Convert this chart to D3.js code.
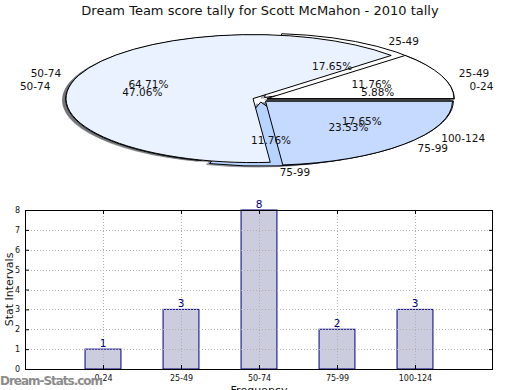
<!DOCTYPE html>
<html>
<head>
<meta charset="utf-8">
<script src="https://cdn.jsdelivr.net/npm/d3@7"></script>
<style>
  html, body { margin: 0; padding: 0; background: #ffffff; }
  svg { display: block; font-family: "DejaVu Sans", sans-serif; }
</style>
</head>
<body>
<svg id="chart" width="520" height="390"></svg>
<script>
// ---- data ----
const title = "Dream Team score tally for Scott McMahon - 2010 tally";
const categories = ["0-24", "25-49", "50-74", "75-99", "100-124"];
const counts = [1, 3, 8, 2, 3];
// second (overlaid) pie as rendered in the reference
const pie2Categories = ["25-49", "50-74", "75-99"];
const pie2Counts = [2, 11, 4];
const pie1Colors = ["#ffffff", "#ffffff", "#eaf1ff", "#b6d4ff", "#c6d9ff"];
const pie2Colors = ["#ffffff", "#eaf1ff", "#c6d9ff"];
const yTicks = [0, 1, 2, 3, 4, 5, 6, 7, 8];
const xLabel = "Frequency";
const yLabel = "Stat Intervals";
const watermark = "Dream-Stats.com";

const svg = d3.select("#chart");

svg.append("text")
  .attr("x", 260).attr("y", 15)
  .attr("text-anchor", "middle")
  .attr("font-size", 13).attr("fill", "#111")
  .text(title);

// ---- pies ----
const cx = 260, cy = 99.5, rx = 187, ry = 64, R = 100;
const explode = 0.04, labelDist = 1.1, pctDist = 0.6;

const pieGen = d3.pie().sort(null).value(d => d.v)
  .startAngle(Math.PI / 2).endAngle(Math.PI / 2 - 2 * Math.PI);
const arcGen = d3.arc().innerRadius(0).outerRadius(R);

function build(cats, vals, cols) {
  const total = d3.sum(vals);
  return pieGen(cats.map((c, i) => ({ c, v: vals[i], col: cols[i], total })))
    .map(a => {
      const mid = (a.startAngle + a.endAngle) / 2;
      const th = Math.PI / 2 - mid;
      return Object.assign(a, { th });
    });
}
const p1 = build(categories, counts, pie1Colors);
const p2 = build(pie2Categories, pie2Counts, pie2Colors);

const pieG = svg.append("g")
  .attr("transform", `translate(${cx},${cy}) scale(${rx / R},${ry / R})`);

function shadows(arcs) {
  pieG.append("g").selectAll("path").data(arcs).join("path")
    .attr("d", arcGen)
    .attr("transform", d => `translate(${explode * R * Math.cos(d.th) - 0.02 * R},${-explode * R * Math.sin(d.th) + 0.02 * R})`)
    .attr("fill", d => { const c = d3.rgb(d.data.col); return d3.rgb(c.r * 0.3, c.g * 0.3, c.b * 0.3).toString(); })
    .attr("fill-opacity", 0.5);
}
function wedges(arcs) {
  pieG.append("g").selectAll("path").data(arcs).join("path")
    .attr("d", arcGen)
    .attr("transform", d => `translate(${explode * R * Math.cos(d.th)},${-explode * R * Math.sin(d.th)})`)
    .attr("fill", d => d.data.col)
    .attr("stroke", "#000")
    .attr("stroke-width", 1)
    .attr("vector-effect", "non-scaling-stroke")
    .attr("stroke-linejoin", "round");
}
shadows(p1); shadows(p2);
wedges(p1); wedges(p2);

function texts(arcs) {
  const g = svg.append("g").attr("font-size", 10.5).attr("fill", "#111");
  g.selectAll("text.lab").data(arcs).join("text")
    .attr("class", "lab")
    .attr("x", d => cx + (explode + labelDist) * rx * Math.cos(d.th))
    .attr("y", d => cy - (explode + labelDist) * ry * Math.sin(d.th))
    .attr("dy", "0.35em")
    .attr("text-anchor", d => Math.cos(d.th) > 0 ? "start" : "end")
    .text(d => d.data.c);
  g.selectAll("text.pct").data(arcs).join("text")
    .attr("class", "pct")
    .attr("x", d => cx + (explode + pctDist) * rx * Math.cos(d.th))
    .attr("y", d => cy - (explode + pctDist) * ry * Math.sin(d.th))
    .attr("dy", "0.35em")
    .attr("text-anchor", "middle")
    .text(d => (100 * d.data.v / d.data.total).toFixed(2) + "%");
}
texts(p1); texts(p2);

// ---- bar chart ----
const L = 25, Rt = 493, T = 210, B = 369;
const x = d3.scaleLinear().domain([0, categories.length + 1]).range([L, Rt]);
const y = d3.scaleLinear().domain([0, 8]).range([B, T]);
const barW = 0.46;

const bars = svg.append("g");
bars.selectAll("rect").data(counts).join("rect")
  .attr("x", (d, i) => x(i + 1 - barW / 2))
  .attr("y", d => y(d))
  .attr("width", x(barW) - x(0))
  .attr("height", d => y(0) - y(d))
  .attr("fill", "#ccccdf")
  .attr("stroke", "#000080")
  .attr("stroke-width", 1);

// grid
const grid = svg.append("g").attr("stroke", "#b0b0b0").attr("stroke-width", 1).attr("stroke-dasharray", "1,2");
grid.selectAll("line.h").data(yTicks.slice(1, -1)).join("line")
  .attr("x1", L).attr("x2", Rt)
  .attr("y1", d => Math.round(y(d)) + 0.5).attr("y2", d => Math.round(y(d)) + 0.5);
grid.selectAll("line.v").data(categories).join("line")
  .attr("class", "v")
  .attr("x1", (d, i) => Math.round(x(i + 1)) + 0.5).attr("x2", (d, i) => Math.round(x(i + 1)) + 0.5)
  .attr("y1", T).attr("y2", B);

// value labels
svg.append("g").selectAll("text").data(counts).join("text")
  .attr("x", (d, i) => x(i + 1))
  .attr("y", d => y(d) - 2)
  .attr("text-anchor", "middle")
  .attr("font-size", 10.5)
  .attr("fill", "#000080")
  .text(d => d);

// axes
const yAxis = svg.append("g").attr("transform", `translate(${L},0)`)
  .call(d3.axisLeft(y).tickValues(yTicks).tickSize(-4).tickPadding(5).tickFormat(d3.format("d")));
const yAxisR = svg.append("g").attr("transform", `translate(${Rt},0)`)
  .call(d3.axisRight(y).tickValues(yTicks).tickSize(-4).tickFormat(""));
const xAxis = svg.append("g").attr("transform", `translate(0,${B})`)
  .call(d3.axisBottom(x).tickValues(categories.map((c, i) => i + 1)).tickSize(-4).tickPadding(6)
    .tickFormat((d, i) => categories[i]));
const xAxisT = svg.append("g").attr("transform", `translate(0,${T})`)
  .call(d3.axisTop(x).tickValues(categories.map((c, i) => i + 1)).tickSize(-4).tickFormat(""));
[yAxis, yAxisR, xAxis, xAxisT].forEach(g => {
  g.select(".domain").remove();
  g.selectAll("text").attr("font-size", 8).attr("fill", "#111").attr("font-family", "DejaVu Sans, sans-serif");
  g.selectAll("line").attr("stroke", "#000");
});
svg.append("rect")
  .attr("x", L + 0.5).attr("y", T + 0.5)
  .attr("width", Rt - L - 1).attr("height", B - T)
  .attr("fill", "none").attr("stroke", "#000").attr("stroke-width", 1);

svg.append("text")
  .attr("x", (L + Rt) / 2).attr("y", 394)
  .attr("text-anchor", "middle").attr("font-size", 11).attr("fill", "#111")
  .text(xLabel);
svg.append("text")
  .attr("transform", `translate(13,${(T + B) / 2}) rotate(-90)`)
  .attr("text-anchor", "middle").attr("font-size", 11).attr("fill", "#111")
  .text(yLabel);

svg.append("text")
  .attr("x", 0).attr("y", 385)
  .attr("font-size", 12).attr("fill", "#8c8c8c").attr("font-weight", "bold")
  .attr("textLength", 103)
  .text(watermark);
</script>
</body>
</html>
